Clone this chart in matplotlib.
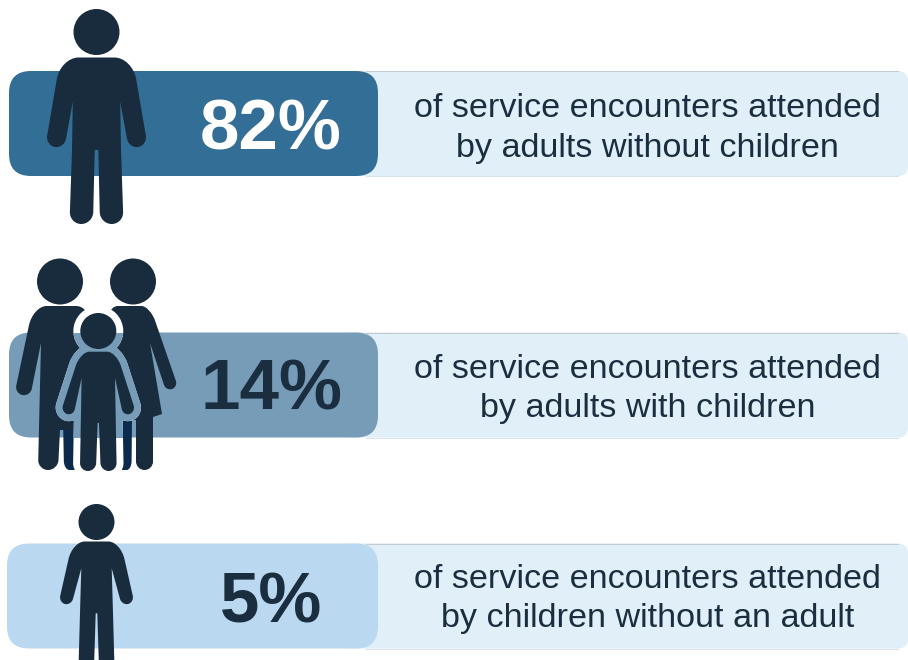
"""Service encounter breakdown drawn as three labelled bars with figure icons."""
import matplotlib

matplotlib.use("Agg")
import matplotlib.pyplot as plt
from matplotlib.patches import Circle, FancyBboxPatch, PathPatch, Rectangle
from matplotlib.path import Path

plt.rcParams["font.family"] = ["Liberation Sans", "DejaVu Sans"]

PERCENTS = ["82%", "14%", "5%"]
LINE_ONE = ["of service encounters attended"] * 3
LINE_TWO = [
    "by adults without children",
    "by adults with children",
    "by children without an adult",
]
BAR_COLORS = ["#336e96", "#769cb8", "#bad8ef"]
PERCENT_COLORS = ["#ffffff", "#1a2e40", "#1a2e40"]
BAR_TOPS = [71, 332.5, 543.5]
BAR_LEFTS = [9, 9, 7]
PERCENT_X = [270.5, 271.5, 271]
PERCENT_Y = [124, 384, 597]
LINE_ONE_Y = [105, 366, 576]
LINE_TWO_Y = [145, 405, 615]

BAR_HEIGHT = 105
BAR_RIGHT = 378
PANEL_COLOR = "#e1eff9"
ICON = "#182c3e"
NAVY = "#0b2a4c"
KAPPA = 0.5523

# Right half of each standing figure as (dx, y, corner radius); mirrored for the left
ADULT = [
    (0, 57.5, 0), (36, 57.5, 22), (51, 145.4, 10), (32.3, 148.6, 10),
    (23.7, 101.7, 0), (24.5, 150, 0), (27, 224, 12), (3.5, 224, 12), (1.8, 150, 0),
]
CHILD = [
    (0, 541.5, 0), (24, 541.5, 18), (37.8, 602.5, 7), (25.3, 605.5, 7),
    (15.2, 568.3, 0), (16.5, 613, 0), (18, 668, 8), (2.5, 668, 8), (0.8, 613.3, 0),
]
SMALL = [
    (0, 351.7, 0), (18, 351.7, 15), (37.5, 412, 7), (25, 416, 7),
    (16.7, 378, 0), (17.5, 423, 0), (18.4, 471, 8), (2.4, 471, 8), (0.7, 423, 0),
]
FATHER = [
    (60, 306, 0), (33, 306, 20), (14.6, 393.4, 8), (30.2, 396.6, 8),
    (41, 343, 0), (38, 470, 10), (58, 470, 10), (60, 430, 0), (84, 430, 0),
    (88, 306, 12),
]
MOTHER = [
    (133, 306, 0), (150, 306, 16), (178, 387, 6.5), (166, 391, 6.5),
    (150, 343, 0), (162, 414, 0), (153, 417, 0), (153, 470, 8.5), (136, 470, 8.5),
    (136, 420, 0), (110, 420, 0), (110, 306, 8),
]
SLIVER_LEFT = [(63, 418, 0), (75, 418, 0), (75, 470, 0), (64, 470, 9)]
SLIVER_RIGHT = [(122, 418, 0), (132, 418, 0), (131.5, 470, 9), (122, 470, 0)]


def rounded_path(points):
    """Closed outline through (x, y, r) corners, each rounded with a cubic curve."""
    n = len(points)
    verts, codes = [], []
    for i, (x, y, r) in enumerate(points):
        px, py, _ = points[i - 1]
        nx, ny, _ = points[(i + 1) % n]
        if r == 0:
            verts.append((x, y))
            codes.append(Path.LINETO)
            continue
        d_in = ((px - x) ** 2 + (py - y) ** 2) ** 0.5
        d_out = ((nx - x) ** 2 + (ny - y) ** 2) ** 0.5
        cut_in = min(r, d_in / 2)
        cut_out = min(r, d_out / 2)
        start = (x + (px - x) * cut_in / d_in, y + (py - y) * cut_in / d_in)
        end = (x + (nx - x) * cut_out / d_out, y + (ny - y) * cut_out / d_out)
        verts.append(start)
        codes.append(Path.LINETO)
        verts.extend([
            (start[0] + (x - start[0]) * KAPPA, start[1] + (y - start[1]) * KAPPA),
            (end[0] + (x - end[0]) * KAPPA, end[1] + (y - end[1]) * KAPPA),
            end,
        ])
        codes.extend([Path.CURVE4] * 3)
    codes[0] = Path.MOVETO
    verts.append(verts[0])
    codes.append(Path.CLOSEPOLY)
    return Path(verts, codes)


def mirrored(cx, half):
    right = [(cx + dx, y, r) for dx, y, r in half]
    left = [(cx - dx, y, r) for dx, y, r in reversed(half) if dx != 0]
    return right + left


def draw_figure(ax, cx, head_y, head_r, half, color=ICON, z=5, **kw):
    """Draw a mirrored figure; extra keywords style its patches, e.g. an outline."""
    patches = [
        Circle((cx, head_y), head_r),
        PathPatch(rounded_path(mirrored(cx, half))),
    ]
    for p in patches:
        p.set(facecolor=color, zorder=z, joinstyle="round", **kw)
        if "edgecolor" not in kw:
            p.set_edgecolor("none")
        ax.add_patch(p)
    return patches


def draw_row(ax, i):
    top = BAR_TOPS[i]
    panel = FancyBboxPatch(
        (BAR_RIGHT - 40, top), 908 - BAR_RIGHT + 40, BAR_HEIGHT,
        boxstyle="round,pad=0,rounding_size=10",
        facecolor=PANEL_COLOR, edgecolor="none", zorder=1,
    )
    ax.add_patch(panel)
    ax.plot([366, 898], [top, top], color="#c4ccd2", lw=0.8, zorder=1)
    ax.plot([366, 898], [top + BAR_HEIGHT] * 2, color="#d8e2e9", lw=0.8, zorder=1)
    bar = FancyBboxPatch(
        (BAR_LEFTS[i], top), BAR_RIGHT - BAR_LEFTS[i], BAR_HEIGHT,
        boxstyle="round,pad=0,rounding_size=22",
        facecolor=BAR_COLORS[i], edgecolor="none", zorder=2,
    )
    ax.add_patch(bar)
    ax.text(PERCENT_X[i], PERCENT_Y[i], PERCENTS[i], fontsize=51, fontweight="bold",
            color=PERCENT_COLORS[i], ha="center", va="center_baseline", zorder=7)
    ax.text(647.5, LINE_ONE_Y[i], LINE_ONE[i], fontsize=24.55, color="#1a2e40",
            ha="center", va="center_baseline", zorder=7)
    ax.text(647.5, LINE_TWO_Y[i], LINE_TWO[i], fontsize=24.55, color="#1a2e40",
            ha="center", va="center_baseline", zorder=7)


def draw_family(ax):
    # Second legs sit behind everything and show as slivers beside the child
    for sliver in (SLIVER_LEFT, SLIVER_RIGHT):
        ax.add_patch(PathPatch(rounded_path(sliver), facecolor=NAVY, edgecolor="none", zorder=3))

    ax.add_patch(Circle((60, 281.5), 23, facecolor=ICON, edgecolor="none", zorder=4))
    ax.add_patch(PathPatch(rounded_path(FATHER), facecolor=ICON, edgecolor="none", zorder=4))
    ax.add_patch(Circle((133, 281.5), 23, facecolor=ICON, edgecolor="none", zorder=4))
    ax.add_patch(PathPatch(rounded_path(MOTHER), facecolor=ICON, edgecolor="none", zorder=4))

    # Child, with a halo that is white off the bar and bar coloured on it
    cx = 98.3
    draw_figure(ax, cx, 331, 18, SMALL, color="white", z=4.5, edgecolor="white", linewidth=10)
    halo = draw_figure(ax, cx, 331, 18, SMALL, color=BAR_COLORS[1], z=4.6,
                       edgecolor=BAR_COLORS[1], linewidth=10)
    clip = Rectangle((0, BAR_TOPS[1]), 908, BAR_HEIGHT, transform=ax.transData)
    for p in halo:
        p.set_clip_path(clip)
    draw_figure(ax, cx, 331, 18, SMALL, z=5)


def main():
    fig = plt.figure(figsize=(9.08, 6.6), dpi=100)
    ax = fig.add_axes([0, 0, 1, 1])
    ax.set_xlim(0, 908)
    ax.set_ylim(660, 0)
    ax.axis("off")

    for i in range(len(PERCENTS)):
        draw_row(ax, i)

    draw_figure(ax, 96.5, 32, 23, ADULT)
    draw_family(ax)
    draw_figure(ax, 96.5, 522, 18, CHILD)

    fig.savefig("out.png", dpi=100)
    plt.close(fig)


if __name__ == "__main__":
    main()
